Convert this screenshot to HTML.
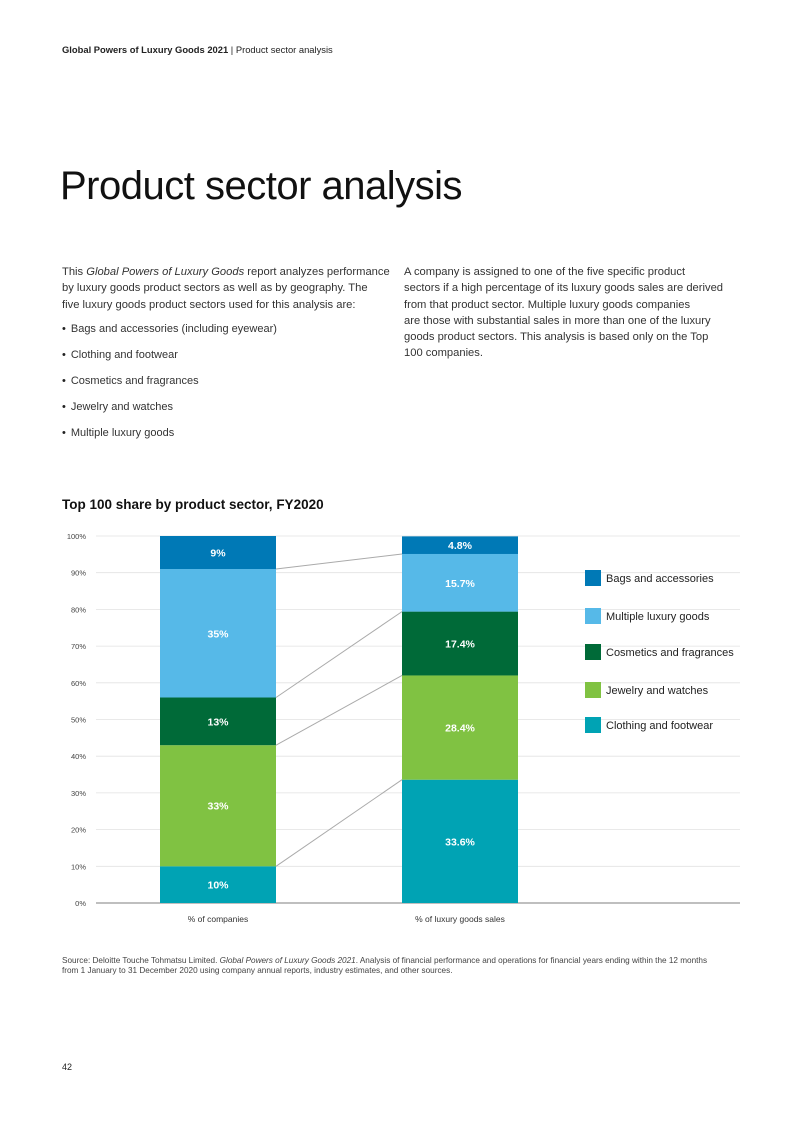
<!DOCTYPE html>
<html><head><meta charset="utf-8">
<style>
body{margin:0;background:#fff;font-family:"Liberation Sans",sans-serif;color:#222}
#page{position:relative;width:793px;height:1122px;overflow:hidden}
.a{position:absolute;margin:0;white-space:nowrap}
.p{font-size:11.2px;line-height:16.3px;color:#333}
.b{font-size:11px;color:#333}
.b::before{content:"•";margin-right:5px;color:#222}
</style></head><body>
<div id="page">
<div class="a" style="left:62px;top:44px;font-size:9.4px"><b>Global Powers of Luxury Goods 2021</b> | Product sector analysis</div>
<h1 class="a" style="left:60px;top:164px;font-size:40px;font-weight:normal;letter-spacing:-0.5px;color:#111">Product sector analysis</h1>
<div class="a p" style="left:62px;top:264px">This <i>Global Powers of Luxury Goods</i> report analyzes performance<br>by luxury goods product sectors as well as by geography. The<br>five luxury goods product sectors used for this analysis are:</div>
<div class="a b" style="left:62px;top:323px">Bags and accessories (including eyewear)</div>
<div class="a b" style="left:62px;top:349px">Clothing and footwear</div>
<div class="a b" style="left:62px;top:375px">Cosmetics and fragrances</div>
<div class="a b" style="left:62px;top:401px">Jewelry and watches</div>
<div class="a b" style="left:62px;top:427px">Multiple luxury goods</div>
<div class="a p" style="left:404px;top:264px">A company is assigned to one of the five specific product<br>sectors if a high percentage of its luxury goods sales are derived<br>from that product sector. Multiple luxury goods companies<br>are those with substantial sales in more than one of the luxury<br>goods product sectors. This analysis is based only on the Top<br>100 companies.</div>
<div class="a" style="left:62px;top:497px;font-size:13.5px;font-weight:bold;color:#111">Top 100 share by product sector, FY2020</div>
<svg class="a" id="chart" style="left:0;top:0" width="793" height="1122"></svg>
<div class="a" style="left:62px;top:956px;font-size:8.2px;line-height:9.5px;color:#444">Source: Deloitte Touche Tohmatsu Limited. <i>Global Powers of Luxury Goods 2021</i>. Analysis of financial performance and operations for financial years ending within the 12 months<br>from 1 January to 31 December 2020 using company annual reports, industry estimates, and other sources.</div>
<div class="a" style="left:62px;top:1062px;font-size:9px">42</div>
</div>
<script>
const categories=["% of companies","% of luxury goods sales"];
const sectors=["Clothing and footwear","Jewelry and watches","Cosmetics and fragrances","Multiple luxury goods","Bags and accessories"];
const companiesValues=[10,33,13,35,9];
const salesValues=[33.6,28.4,17.4,15.7,4.8];
const companiesLabels=["10%","33%","13%","35%","9%"];
const salesLabels=["33.6%","28.4%","17.4%","15.7%","4.8%"];
const yTicks=[0,10,20,30,40,50,60,70,80,90,100];
const legendOrder=[4,3,2,1,0];
const colors=["#00a3b4","#80c242","#006a38","#56b9e8","#0079b6"];
const NS="http://www.w3.org/2000/svg";
const svg=document.getElementById('chart');
const y0=903,y100=536;
function y(v){return y0-(y0-y100)*v/100;}
const barX=[160,402],barW=116;
function mk(t,a){const e=document.createElementNS(NS,t);for(const k in a)e.setAttribute(k,a[k]);svg.appendChild(e);return e;}
yTicks.forEach(t=>{
 const l=mk('line',{x1:96,x2:740,y1:y(t),y2:y(t),stroke:t===0?'#999':'#e2e2e2','stroke-width':t===0?1.2:0.8});
 
 
 const tx=mk('text',{x:86,y:y(t)+3,'text-anchor':'end','font-size':7.5,fill:'#444','font-family':'Liberation Sans'});
 tx.textContent=t+'%';
 
 
});
const series=[companiesValues,salesValues],labels=[companiesLabels,salesLabels];
const tops=[[],[]];
series.forEach((vals,bi)=>{
 let acc=0;
 vals.forEach((v,i)=>{
  const r=mk('rect',{x:barX[bi],y:y(acc+v),width:barW,height:y(acc)-y(acc+v),fill:colors[i]});
  
  
  const tx=mk('text',{x:barX[bi]+barW/2,y:y(acc+v/2)+4,'text-anchor':'middle','font-size':10.5,'font-weight':'bold',fill:'#fff','font-family':'Liberation Sans'});
  tx.textContent=labels[bi][i];
  
  
  acc+=v;tops[bi].push(acc);
 });
 const c=mk('text',{x:barX[bi]+barW/2,y:922,'text-anchor':'middle','font-size':8.5,fill:'#333','font-family':'Liberation Sans'});
 c.textContent=categories[bi];
 
 
});
for(let i=0;i<sectors.length-1;i++){
 const l=mk('line',{x1:barX[0]+barW,y1:y(tops[0][i]),x2:barX[1],y2:y(tops[1][i]),stroke:'#aaa','stroke-width':1});
 
 
}
const legY=[570,608,644,682,717];
legendOrder.forEach((si,k)=>{
 const r=mk('rect',{x:585,y:legY[k],width:16,height:16,fill:colors[si]});
 
 
 const tx=mk('text',{x:606,y:legY[k]+12,'font-size':11,fill:'#222','font-family':'Liberation Sans'});
 tx.textContent=sectors[si];
 
 
});
</script>
</body></html>
